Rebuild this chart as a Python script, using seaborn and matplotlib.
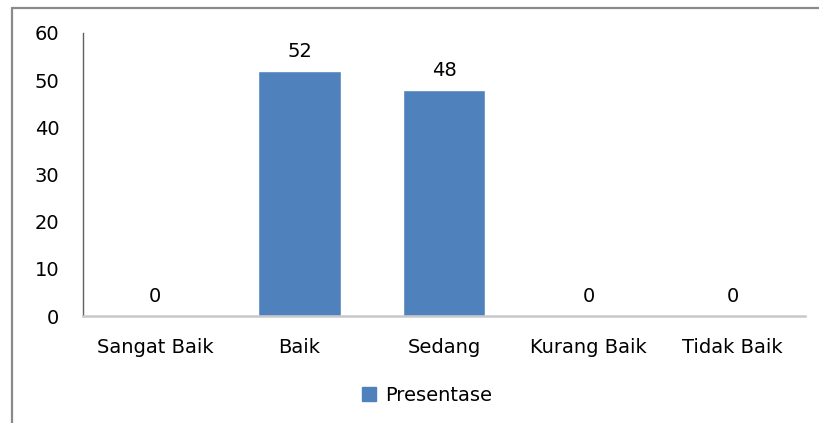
import matplotlib
matplotlib.use("Agg")
import matplotlib.pyplot as plt
import seaborn as sns
import pandas as pd
from matplotlib.lines import Line2D
from matplotlib.patches import Patch

categories = ["Sangat Baik", "Baik", "Sedang", "Kurang Baik", "Tidak Baik"]
values = [0, 52, 48, 0, 0]
series_name = "Presentase"
yticks = [0, 10, 20, 30, 40, 50, 60]

sns.set_style("white")
plt.rcParams['font.family'] = ['DejaVu Sans']
plt.rcParams['text.color'] = '#000000'

W, H = 820, 423
FS = 14
fig = plt.figure(figsize=(W / 100, H / 100), dpi=100)
ax = fig.add_axes([83 / W, (H - 316) / H, (805 - 83) / W, (316 - 33) / H])

df = pd.DataFrame({"cat": categories, "val": values})
color = "#4F81BD"
sns.barplot(data=df, x="cat", y="val", color=color, saturation=1, width=0.57, ax=ax)

ax.set_ylim(0, 60)
ax.set_yticks(yticks)
ax.set_xlabel("")
ax.set_ylabel("")
ax.tick_params(axis="y", length=0, pad=17, labelsize=FS, labelcolor="#000000")
ax.tick_params(axis="x", length=0, pad=16, labelsize=FS, labelcolor="#000000")

for s in ["top", "right"]:
    ax.spines[s].set_visible(False)
ax.spines["left"].set_color("#606060")
ax.spines["left"].set_linewidth(1.0)
ax.spines["bottom"].set_color("#c8c8c8")
ax.spines["bottom"].set_linewidth(1.8)

for cont in ax.containers:
    ax.bar_label(cont, labels=[str(v) for v in values], padding=7, fontsize=FS, color="#000000")

# legend
handle = Patch(facecolor=color, edgecolor=color)
fig.legend([handle], [series_name], loc="center", bbox_to_anchor=(427 / W, (H - 395) / H),
           frameon=False, fontsize=FS, handlelength=0.75, handleheight=0.75, handletextpad=0.45,
           labelcolor="#000000")

# outer border (top and left visible)
fig.add_artist(Line2D([12 / W, 1.0], [(H - 8) / H, (H - 8) / H], color="#8a8a8a", lw=1.6,
                      transform=fig.transFigure))
fig.add_artist(Line2D([12 / W, 12 / W], [0, (H - 8) / H], color="#8a8a8a", lw=1.6,
                      transform=fig.transFigure))

fig.savefig("out.png", dpi=100)
